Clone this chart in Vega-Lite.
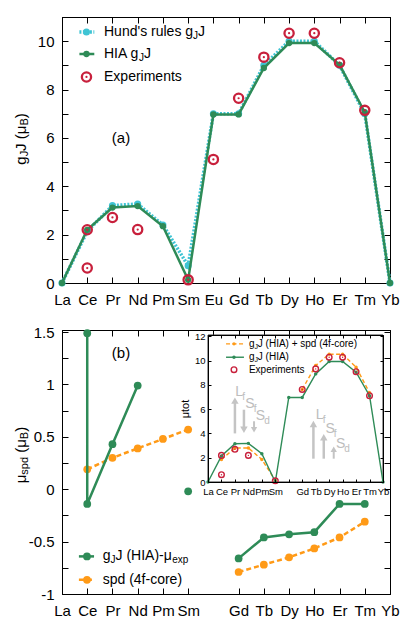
{
 "$schema": "https://vega.github.io/schema/vega-lite/v6.json",
 "autosize": {"type": "pad"},
 "padding": {"left": 13, "top": 9, "right": 5, "bottom": 5},
 "background": "white",
 "config": {
  "font": "Liberation Sans",
  "view": {"stroke": "black", "strokeWidth": 1},
  "axis": {"domain": true, "domainColor": "black", "domainWidth": 1, "grid": false, "labelFont": "Liberation Sans", "titleFont": "Liberation Sans", "labelColor": "black", "titleColor": "black", "tickColor": "black", "labelFontSize": 15, "titleFontSize": 15, "titleFontWeight": "normal", "labelFlush": false, "labelOverlap": false}
 },
 "datasets": {
  "hundA": [{"el":"La","Z":57,"g":0},{"el":"Ce","Z":58,"g":2.14},{"el":"Pr","Z":59,"g":3.2},{"el":"Nd","Z":60,"g":3.27},{"el":"Pm","Z":61,"g":2.4},{"el":"Sm","Z":62,"g":0.71},{"el":"Eu","Z":63,"g":7},{"el":"Gd","Z":64,"g":7},{"el":"Tb","Z":65,"g":9},{"el":"Dy","Z":66,"g":10},{"el":"Ho","Z":67,"g":10},{"el":"Er","Z":68,"g":9},{"el":"Tm","Z":69,"g":7},{"el":"Yb","Z":70,"g":0}],
  "hiaA": [{"el":"La","Z":57,"g":0},{"el":"Ce","Z":58,"g":2.2},{"el":"Pr","Z":59,"g":3.12},{"el":"Nd","Z":60,"g":3.18},{"el":"Pm","Z":61,"g":2.35},{"el":"Sm","Z":62,"g":0.13},{"el":"Eu","Z":63,"g":6.97},{"el":"Gd","Z":64,"g":6.97},{"el":"Tb","Z":65,"g":8.89},{"el":"Dy","Z":66,"g":9.92},{"el":"Ho","Z":67,"g":9.92},{"el":"Er","Z":68,"g":9.02},{"el":"Tm","Z":69,"g":7.06},{"el":"Yb","Z":70,"g":0}],
  "expA": [{"el":"Ce","Z":58,"g":2.2},{"el":"Ce","Z":58,"g":0.62},{"el":"Pr","Z":59,"g":2.71},{"el":"Nd","Z":60,"g":2.21},{"el":"Sm","Z":62,"g":0.13},{"el":"Eu","Z":63,"g":5.11},{"el":"Gd","Z":64,"g":7.64},{"el":"Tb","Z":65,"g":9.34},{"el":"Dy","Z":66,"g":10.33},{"el":"Ho","Z":67,"g":10.33},{"el":"Er","Z":68,"g":9.11},{"el":"Tm","Z":69,"g":7.14}],
  "diffB": [{"el":"Ce","Z":58,"mu":1.49,"seg":"a","ord":1},{"el":"Ce","Z":58,"mu":-0.14,"seg":"a","ord":2},{"el":"Pr","Z":59,"mu":0.43,"seg":"a","ord":3},{"el":"Nd","Z":60,"mu":0.99,"seg":"a","ord":4},{"el":"Sm","Z":62,"mu":-0.02,"seg":"b","ord":5},{"el":"Gd","Z":64,"mu":-0.66,"seg":"c","ord":6},{"el":"Tb","Z":65,"mu":-0.46,"seg":"c","ord":7},{"el":"Dy","Z":66,"mu":-0.43,"seg":"c","ord":8},{"el":"Ho","Z":67,"mu":-0.41,"seg":"c","ord":9},{"el":"Er","Z":68,"mu":-0.14,"seg":"c","ord":10},{"el":"Tm","Z":69,"mu":-0.14,"seg":"c","ord":11}],
  "spdB": [{"el":"Ce","Z":58,"mu":0.19,"seg":"a"},{"el":"Pr","Z":59,"mu":0.3,"seg":"a"},{"el":"Nd","Z":60,"mu":0.39,"seg":"a"},{"el":"Pm","Z":61,"mu":0.48,"seg":"a"},{"el":"Sm","Z":62,"mu":0.57,"seg":"a"},{"el":"Gd","Z":64,"mu":-0.79,"seg":"b"},{"el":"Tb","Z":65,"mu":-0.72,"seg":"b"},{"el":"Dy","Z":66,"mu":-0.65,"seg":"b"},{"el":"Ho","Z":67,"mu":-0.565,"seg":"b"},{"el":"Er","Z":68,"mu":-0.46,"seg":"b"},{"el":"Tm","Z":69,"mu":-0.31,"seg":"b"}],
  "hiaI": [{"el":"La","Z":57,"mu":0},{"el":"Ce","Z":58,"mu":2.14},{"el":"Pr","Z":59,"mu":3.15},{"el":"Nd","Z":60,"mu":3.18},{"el":"Pm","Z":61,"mu":2.33},{"el":"Sm","Z":62,"mu":0},{"el":"Eu","Z":63,"mu":6.96},{"el":"Gd","Z":64,"mu":6.96},{"el":"Tb","Z":65,"mu":8.9},{"el":"Dy","Z":66,"mu":9.92},{"el":"Ho","Z":67,"mu":9.92},{"el":"Er","Z":68,"mu":9.04},{"el":"Tm","Z":69,"mu":7.1},{"el":"Yb","Z":70,"mu":0}],
  "sumI": [{"el":"Ce","Z":58,"mu":1.86,"seg":"a"},{"el":"Pr","Z":59,"mu":2.8,"seg":"a"},{"el":"Nd","Z":60,"mu":2.8,"seg":"a"},{"el":"Pm","Z":61,"mu":1.86,"seg":"a"},{"el":"Sm","Z":62,"mu":0.12,"seg":"a"},{"el":"Gd","Z":64,"mu":7.62,"seg":"b"},{"el":"Tb","Z":65,"mu":9.59,"seg":"b"},{"el":"Dy","Z":66,"mu":10.52,"seg":"b"},{"el":"Ho","Z":67,"mu":10.52,"seg":"b"},{"el":"Er","Z":68,"mu":9.45,"seg":"b"},{"el":"Tm","Z":69,"mu":7.35,"seg":"b"}],
  "expI": [{"el":"Ce","Z":58,"mu":2.19},{"el":"Ce","Z":58,"mu":0.6},{"el":"Pr","Z":59,"mu":2.69},{"el":"Nd","Z":60,"mu":2.19},{"el":"Sm","Z":62,"mu":0.1},{"el":"Gd","Z":64,"mu":7.62},{"el":"Tb","Z":65,"mu":9.31},{"el":"Dy","Z":66,"mu":10.27},{"el":"Ho","Z":67,"mu":10.27},{"el":"Er","Z":68,"mu":9.08},{"el":"Tm","Z":69,"mu":7.1}]
 },
 "spacing": 47,
 "bounds": "flush",
 "vconcat": [
  {
   "width": 328, "height": 266,
   "layer": [
    {"data": {"name": "hundA"}, "mark": {"type": "point", "opacity": 0},
     "encoding": {
      "x": {"field": "Z", "type": "quantitative", "scale": {"domain": [57, 70]}, "axis": {"orient": "bottom", "values": [57,58,59,60,61,62,63,64,65,66,67,68,69,70], "labelExpr": "['La','Ce','Pr','Nd','Pm','Sm','Eu','Gd','Tb','Dy','Ho','Er','Tm','Yb'][datum.value-57]", "tickSize": -6, "labelPadding": 15, "title": null}},
      "y": {"field": "g", "type": "quantitative", "scale": {"domain": [0, 11]}, "axis": {"orient": "left", "values": [0,1,2,3,4,5,6,7,8,9,10,11], "labelExpr": "datum.value % 2 == 0 && datum.value <= 10 ? format(datum.value,'d') : ''", "tickSize": -6, "labelPadding": 14, "title": null}}
     }},
    {"data": {"name": "hundA"}, "mark": {"type": "point", "opacity": 0},
     "encoding": {
      "x": {"field": "Z", "type": "quantitative", "scale": {"domain": [57, 70]}, "axis": {"orient": "top", "values": [57,58,59,60,61,62,63,64,65,66,67,68,69,70], "labels": false, "tickSize": -6, "title": null}},
      "y": {"field": "g", "type": "quantitative", "scale": {"domain": [0, 11]}, "axis": {"orient": "right", "values": [0,1,2,3,4,5,6,7,8,9,10,11], "labels": false, "tickSize": -6, "title": null}}
     }},
    {"data": {"values": [{}]}, "mark": {"type": "text", "text": "g", "angle": 270, "align": "left", "baseline": "middle", "fontSize": 15, "font": "Liberation Sans", "color": "black"},
     "encoding": {"x": {"datum": 55.375, "type": "quantitative", "scale": {"domain": [57, 70]}, "axis": null}, "y": {"datum": 4.89, "type": "quantitative", "scale": {"domain": [0, 11]}, "axis": null}}},
    {"data": {"values": [{}]}, "mark": {"type": "text", "text": "J", "angle": 270, "align": "left", "baseline": "middle", "fontSize": 11, "dy": 4, "font": "Liberation Sans", "color": "black"},
     "encoding": {"x": {"datum": 55.375, "type": "quantitative", "scale": {"domain": [57, 70]}, "axis": null}, "y": {"datum": 5.24, "type": "quantitative", "scale": {"domain": [0, 11]}, "axis": null}}},
    {"data": {"values": [{}]}, "mark": {"type": "text", "text": "J (μ", "angle": 270, "align": "left", "baseline": "middle", "fontSize": 15, "font": "Liberation Sans", "color": "black"},
     "encoding": {"x": {"datum": 55.375, "type": "quantitative", "scale": {"domain": [57, 70]}, "axis": null}, "y": {"datum": 5.46, "type": "quantitative", "scale": {"domain": [0, 11]}, "axis": null}}},
    {"data": {"values": [{}]}, "mark": {"type": "text", "text": "B", "angle": 270, "align": "left", "baseline": "middle", "fontSize": 11, "dy": 4, "font": "Liberation Sans", "color": "black"},
     "encoding": {"x": {"datum": 55.375, "type": "quantitative", "scale": {"domain": [57, 70]}, "axis": null}, "y": {"datum": 6.51, "type": "quantitative", "scale": {"domain": [0, 11]}, "axis": null}}},
    {"data": {"values": [{}]}, "mark": {"type": "text", "text": ")", "angle": 270, "align": "left", "baseline": "middle", "fontSize": 15, "font": "Liberation Sans", "color": "black"},
     "encoding": {"x": {"datum": 55.375, "type": "quantitative", "scale": {"domain": [57, 70]}, "axis": null}, "y": {"datum": 6.81, "type": "quantitative", "scale": {"domain": [0, 11]}, "axis": null}}},
    {"data": {"name": "hundA"}, "mark": {"type": "line", "color": "#3fc4d4", "strokeWidth": 3.5, "strokeDash": [2, 1.5]},
     "encoding": {"x": {"field": "Z", "type": "quantitative", "scale": {"domain": [57, 70]}, "axis": null}, "y": {"field": "g", "type": "quantitative", "scale": {"domain": [0, 11]}, "axis": null}}},
    {"data": {"name": "hundA"}, "mark": {"type": "point", "filled": true, "color": "#3fc4d4", "size": 50, "opacity": 1},
     "encoding": {"x": {"field": "Z", "type": "quantitative", "scale": {"domain": [57, 70]}, "axis": null}, "y": {"field": "g", "type": "quantitative", "scale": {"domain": [0, 11]}, "axis": null}}},
    {"data": {"name": "hiaA"}, "mark": {"type": "line", "color": "#2e8b57", "strokeWidth": 2.5},
     "encoding": {"x": {"field": "Z", "type": "quantitative", "scale": {"domain": [57, 70]}, "axis": null}, "y": {"field": "g", "type": "quantitative", "scale": {"domain": [0, 11]}, "axis": null}}},
    {"data": {"name": "hiaA"}, "mark": {"type": "point", "filled": true, "color": "#2e8b57", "size": 40, "opacity": 1},
     "encoding": {"x": {"field": "Z", "type": "quantitative", "scale": {"domain": [57, 70]}, "axis": null}, "y": {"field": "g", "type": "quantitative", "scale": {"domain": [0, 11]}, "axis": null}}},
    {"data": {"name": "expA"}, "mark": {"type": "point", "filled": false, "color": "#c8203c", "strokeWidth": 2.3, "size": 85, "opacity": 1},
     "encoding": {"x": {"field": "Z", "type": "quantitative", "scale": {"domain": [57, 70]}, "axis": null}, "y": {"field": "g", "type": "quantitative", "scale": {"domain": [0, 11]}, "axis": null}}},
    {"data": {"name": "expA"}, "mark": {"type": "point", "filled": true, "color": "#c8203c", "size": 5, "opacity": 1},
     "encoding": {"x": {"field": "Z", "type": "quantitative", "scale": {"domain": [57, 70]}, "axis": null}, "y": {"field": "g", "type": "quantitative", "scale": {"domain": [0, 11]}, "axis": null}}},
    {"data": {"values": [{}]}, "mark": {"type": "rule", "color": "#3fc4d4", "strokeWidth": 3.5, "strokeDash": [2, 1.5]},
     "encoding": {"x": {"datum": 57.69, "type": "quantitative", "scale": {"domain": [57, 70]}, "axis": null}, "x2": {"datum": 58.28}, "y": {"datum": 10.38, "type": "quantitative", "scale": {"domain": [0, 11]}, "axis": null}}},
    {"data": {"values": [{}]}, "mark": {"type": "point", "filled": true, "color": "#3fc4d4", "size": 50, "opacity": 1},
     "encoding": {"x": {"datum": 57.97, "type": "quantitative", "scale": {"domain": [57, 70]}, "axis": null}, "y": {"datum": 10.38, "type": "quantitative", "scale": {"domain": [0, 11]}, "axis": null}}},
    {"data": {"values": [{}]}, "mark": {"type": "rule", "color": "#2e8b57", "strokeWidth": 2.5},
     "encoding": {"x": {"datum": 57.69, "type": "quantitative", "scale": {"domain": [57, 70]}, "axis": null}, "x2": {"datum": 58.28}, "y": {"datum": 9.47, "type": "quantitative", "scale": {"domain": [0, 11]}, "axis": null}}},
    {"data": {"values": [{}]}, "mark": {"type": "point", "filled": true, "color": "#2e8b57", "size": 40, "opacity": 1},
     "encoding": {"x": {"datum": 57.97, "type": "quantitative", "scale": {"domain": [57, 70]}, "axis": null}, "y": {"datum": 9.47, "type": "quantitative", "scale": {"domain": [0, 11]}, "axis": null}}},
    {"data": {"values": [{}]}, "mark": {"type": "point", "filled": false, "color": "#c8203c", "strokeWidth": 2.3, "size": 85, "opacity": 1},
     "encoding": {"x": {"datum": 57.97, "type": "quantitative", "scale": {"domain": [57, 70]}, "axis": null}, "y": {"datum": 8.52, "type": "quantitative", "scale": {"domain": [0, 11]}, "axis": null}}},
    {"data": {"values": [{}]}, "mark": {"type": "point", "filled": true, "color": "#c8203c", "size": 5, "opacity": 1},
     "encoding": {"x": {"datum": 57.97, "type": "quantitative", "scale": {"domain": [57, 70]}, "axis": null}, "y": {"datum": 8.52, "type": "quantitative", "scale": {"domain": [0, 11]}, "axis": null}}},
    {"data": {"values": [{}]}, "mark": {"type": "text", "text": "Hund's rules g", "align": "left", "baseline": "middle", "fontSize": 14, "font": "Liberation Sans", "color": "black"},
     "encoding": {"x": {"datum": 58.665, "type": "quantitative", "scale": {"domain": [57, 70]}, "axis": null}, "y": {"datum": 10.38, "type": "quantitative", "scale": {"domain": [0, 11]}, "axis": null}}},
    {"data": {"values": [{}]}, "mark": {"type": "text", "text": "J", "align": "left", "baseline": "middle", "fontSize": 10, "dy": 4, "font": "Liberation Sans", "color": "black"},
     "encoding": {"x": {"datum": 62.19, "type": "quantitative", "scale": {"domain": [57, 70]}, "axis": null}, "y": {"datum": 10.38, "type": "quantitative", "scale": {"domain": [0, 11]}, "axis": null}}},
    {"data": {"values": [{}]}, "mark": {"type": "text", "text": "J", "align": "left", "baseline": "middle", "fontSize": 14, "font": "Liberation Sans", "color": "black"},
     "encoding": {"x": {"datum": 62.39, "type": "quantitative", "scale": {"domain": [57, 70]}, "axis": null}, "y": {"datum": 10.38, "type": "quantitative", "scale": {"domain": [0, 11]}, "axis": null}}},
    {"data": {"values": [{}]}, "mark": {"type": "text", "text": "HIA g", "align": "left", "baseline": "middle", "fontSize": 14, "font": "Liberation Sans", "color": "black"},
     "encoding": {"x": {"datum": 58.665, "type": "quantitative", "scale": {"domain": [57, 70]}, "axis": null}, "y": {"datum": 9.47, "type": "quantitative", "scale": {"domain": [0, 11]}, "axis": null}}},
    {"data": {"values": [{}]}, "mark": {"type": "text", "text": "J", "align": "left", "baseline": "middle", "fontSize": 10, "dy": 4, "font": "Liberation Sans", "color": "black"},
     "encoding": {"x": {"datum": 60.05, "type": "quantitative", "scale": {"domain": [57, 70]}, "axis": null}, "y": {"datum": 9.47, "type": "quantitative", "scale": {"domain": [0, 11]}, "axis": null}}},
    {"data": {"values": [{}]}, "mark": {"type": "text", "text": "J", "align": "left", "baseline": "middle", "fontSize": 14, "font": "Liberation Sans", "color": "black"},
     "encoding": {"x": {"datum": 60.25, "type": "quantitative", "scale": {"domain": [57, 70]}, "axis": null}, "y": {"datum": 9.47, "type": "quantitative", "scale": {"domain": [0, 11]}, "axis": null}}},
    {"data": {"values": [{}]}, "mark": {"type": "text", "text": "Experiments", "align": "left", "baseline": "middle", "fontSize": 14, "font": "Liberation Sans", "color": "black"},
     "encoding": {"x": {"datum": 58.665, "type": "quantitative", "scale": {"domain": [57, 70]}, "axis": null}, "y": {"datum": 8.52, "type": "quantitative", "scale": {"domain": [0, 11]}, "axis": null}}},
    {"data": {"values": [{}]}, "mark": {"type": "text", "text": "(a)", "align": "center", "baseline": "middle", "fontSize": 15, "font": "Liberation Sans", "color": "black"},
     "encoding": {"x": {"datum": 59.34, "type": "quantitative", "scale": {"domain": [57, 70]}, "axis": null}, "y": {"datum": 6.0, "type": "quantitative", "scale": {"domain": [0, 11]}, "axis": null}}}
   ],
   "resolve": {"axis": {"x": "independent", "y": "independent"}}
  },
  {
   "width": 328, "height": 264,
   "layer": [
    {
     "layer": [
      {"data": {"name": "diffB"}, "mark": {"type": "point", "opacity": 0},
       "encoding": {
        "x": {"field": "Z", "type": "quantitative", "scale": {"domain": [57, 70]}, "axis": {"orient": "bottom", "values": [57,58,59,60,61,62,64,65,66,67,68,69,70], "labelExpr": "['La','Ce','Pr','Nd','Pm','Sm','Eu','Gd','Tb','Dy','Ho','Er','Tm','Yb'][datum.value-57]", "tickSize": -6, "labelPadding": 15, "title": null}},
        "y": {"field": "mu", "type": "quantitative", "scale": {"domain": [-1, 1.52]}, "axis": {"orient": "left", "values": [-1,-0.75,-0.5,-0.25,0,0.25,0.5,0.75,1,1.25,1.5], "labelExpr": "datum.value % 0.5 == 0 ? replace(format(datum.value,'~g'),'−','-') : ''", "tickSize": -6, "labelPadding": 14, "title": null}}
       }},
      {"data": {"name": "diffB"}, "mark": {"type": "point", "opacity": 0},
       "encoding": {
        "x": {"field": "Z", "type": "quantitative", "scale": {"domain": [57, 70]}, "axis": {"orient": "top", "values": [57,58,59,60,61,62,63,64,65,66,67,68,69,70], "labels": false, "tickSize": -6, "title": null}},
        "y": {"field": "mu", "type": "quantitative", "scale": {"domain": [-1, 1.52]}, "axis": {"orient": "right", "values": [-1,-0.75,-0.5,-0.25,0,0.25,0.5,0.75,1,1.25,1.5], "labels": false, "tickSize": -6, "title": null}}
       }},
      {"data": {"values": [{}]}, "mark": {"type": "text", "text": "μ", "angle": 270, "align": "left", "baseline": "middle", "fontSize": 15, "font": "Liberation Sans", "color": "black"},
       "encoding": {"x": {"datum": 55.375, "type": "quantitative", "scale": {"domain": [57, 70]}, "axis": null}, "y": {"datum": 0.057, "type": "quantitative", "scale": {"domain": [-1, 1.52]}, "axis": null}}},
      {"data": {"values": [{}]}, "mark": {"type": "text", "text": "spd", "angle": 270, "align": "left", "baseline": "middle", "fontSize": 11, "dy": 4, "font": "Liberation Sans", "color": "black"},
       "encoding": {"x": {"datum": 55.375, "type": "quantitative", "scale": {"domain": [57, 70]}, "axis": null}, "y": {"datum": 0.139, "type": "quantitative", "scale": {"domain": [-1, 1.52]}, "axis": null}}},
      {"data": {"values": [{}]}, "mark": {"type": "text", "text": "(μ", "angle": 270, "align": "left", "baseline": "middle", "fontSize": 15, "font": "Liberation Sans", "color": "black"},
       "encoding": {"x": {"datum": 55.375, "type": "quantitative", "scale": {"domain": [57, 70]}, "axis": null}, "y": {"datum": 0.348, "type": "quantitative", "scale": {"domain": [-1, 1.52]}, "axis": null}}},
      {"data": {"values": [{}]}, "mark": {"type": "text", "text": "B", "angle": 270, "align": "left", "baseline": "middle", "fontSize": 11, "dy": 4, "font": "Liberation Sans", "color": "black"},
       "encoding": {"x": {"datum": 55.375, "type": "quantitative", "scale": {"domain": [57, 70]}, "axis": null}, "y": {"datum": 0.478, "type": "quantitative", "scale": {"domain": [-1, 1.52]}, "axis": null}}},
      {"data": {"values": [{}]}, "mark": {"type": "text", "text": ")", "angle": 270, "align": "left", "baseline": "middle", "fontSize": 15, "font": "Liberation Sans", "color": "black"},
       "encoding": {"x": {"datum": 55.375, "type": "quantitative", "scale": {"domain": [57, 70]}, "axis": null}, "y": {"datum": 0.548, "type": "quantitative", "scale": {"domain": [-1, 1.52]}, "axis": null}}},
      {"data": {"name": "spdB"}, "mark": {"type": "line", "color": "#ff9a17", "strokeWidth": 2.5, "strokeDash": [5, 3]},
       "encoding": {"x": {"field": "Z", "type": "quantitative", "scale": {"domain": [57, 70]}, "axis": null}, "y": {"field": "mu", "type": "quantitative", "scale": {"domain": [-1, 1.52]}, "axis": null}, "detail": {"field": "seg"}}},
      {"data": {"name": "spdB"}, "mark": {"type": "point", "filled": true, "color": "#ff9a17", "size": 60, "opacity": 1},
       "encoding": {"x": {"field": "Z", "type": "quantitative", "scale": {"domain": [57, 70]}, "axis": null}, "y": {"field": "mu", "type": "quantitative", "scale": {"domain": [-1, 1.52]}, "axis": null}}},
      {"data": {"name": "diffB"}, "mark": {"type": "line", "color": "#2e8b57", "strokeWidth": 2.5},
       "encoding": {"x": {"field": "Z", "type": "quantitative", "scale": {"domain": [57, 70]}, "axis": null}, "y": {"field": "mu", "type": "quantitative", "scale": {"domain": [-1, 1.52]}, "axis": null}, "detail": {"field": "seg"}, "order": {"field": "ord"}}},
      {"data": {"name": "diffB"}, "mark": {"type": "point", "filled": true, "color": "#2e8b57", "size": 60, "opacity": 1},
       "encoding": {"x": {"field": "Z", "type": "quantitative", "scale": {"domain": [57, 70]}, "axis": null}, "y": {"field": "mu", "type": "quantitative", "scale": {"domain": [-1, 1.52]}, "axis": null}}},
      {"data": {"values": [{}]}, "mark": {"type": "rule", "color": "#2e8b57", "strokeWidth": 2.5},
       "encoding": {"x": {"datum": 57.67, "type": "quantitative", "scale": {"domain": [57, 70]}, "axis": null}, "x2": {"datum": 58.27}, "y": {"datum": -0.641, "type": "quantitative", "scale": {"domain": [-1, 1.52]}, "axis": null}}},
      {"data": {"values": [{}]}, "mark": {"type": "point", "filled": true, "color": "#2e8b57", "size": 60, "opacity": 1},
       "encoding": {"x": {"datum": 57.99, "type": "quantitative", "scale": {"domain": [57, 70]}, "axis": null}, "y": {"datum": -0.641, "type": "quantitative", "scale": {"domain": [-1, 1.52]}, "axis": null}}},
      {"data": {"values": [{}]}, "mark": {"type": "rule", "color": "#ff9a17", "strokeWidth": 2.5, "strokeDash": [5, 3]},
       "encoding": {"x": {"datum": 57.67, "type": "quantitative", "scale": {"domain": [57, 70]}, "axis": null}, "x2": {"datum": 58.27}, "y": {"datum": -0.864, "type": "quantitative", "scale": {"domain": [-1, 1.52]}, "axis": null}}},
      {"data": {"values": [{}]}, "mark": {"type": "point", "filled": true, "color": "#ff9a17", "size": 60, "opacity": 1},
       "encoding": {"x": {"datum": 57.99, "type": "quantitative", "scale": {"domain": [57, 70]}, "axis": null}, "y": {"datum": -0.864, "type": "quantitative", "scale": {"domain": [-1, 1.52]}, "axis": null}}},
      {"data": {"values": [{}]}, "mark": {"type": "text", "text": "g", "align": "left", "baseline": "middle", "fontSize": 14, "font": "Liberation Sans", "color": "black"},
       "encoding": {"x": {"datum": 58.613, "type": "quantitative", "scale": {"domain": [57, 70]}, "axis": null}, "y": {"datum": -0.641, "type": "quantitative", "scale": {"domain": [-1, 1.52]}, "axis": null}}},
      {"data": {"values": [{}]}, "mark": {"type": "text", "text": "J", "align": "left", "baseline": "middle", "fontSize": 10, "dy": 4, "font": "Liberation Sans", "color": "black"},
       "encoding": {"x": {"datum": 58.92, "type": "quantitative", "scale": {"domain": [57, 70]}, "axis": null}, "y": {"datum": -0.641, "type": "quantitative", "scale": {"domain": [-1, 1.52]}, "axis": null}}},
      {"data": {"values": [{}]}, "mark": {"type": "text", "text": "J (HIA)-μ", "align": "left", "baseline": "middle", "fontSize": 14, "font": "Liberation Sans", "color": "black"},
       "encoding": {"x": {"datum": 59.12, "type": "quantitative", "scale": {"domain": [57, 70]}, "axis": null}, "y": {"datum": -0.641, "type": "quantitative", "scale": {"domain": [-1, 1.52]}, "axis": null}}},
      {"data": {"values": [{}]}, "mark": {"type": "text", "text": "exp", "align": "left", "baseline": "middle", "fontSize": 10, "dy": 4, "font": "Liberation Sans", "color": "black"},
       "encoding": {"x": {"datum": 61.37, "type": "quantitative", "scale": {"domain": [57, 70]}, "axis": null}, "y": {"datum": -0.641, "type": "quantitative", "scale": {"domain": [-1, 1.52]}, "axis": null}}},
      {"data": {"values": [{}]}, "mark": {"type": "text", "text": "spd (4f-core)", "align": "left", "baseline": "middle", "fontSize": 14, "font": "Liberation Sans", "color": "black"},
       "encoding": {"x": {"datum": 58.613, "type": "quantitative", "scale": {"domain": [57, 70]}, "axis": null}, "y": {"datum": -0.864, "type": "quantitative", "scale": {"domain": [-1, 1.52]}, "axis": null}}},
      {"data": {"values": [{}]}, "mark": {"type": "text", "text": "(b)", "align": "center", "baseline": "middle", "fontSize": 15, "font": "Liberation Sans", "color": "black"},
       "encoding": {"x": {"datum": 59.34, "type": "quantitative", "scale": {"domain": [57, 70]}, "axis": null}, "y": {"datum": 1.3, "type": "quantitative", "scale": {"domain": [-1, 1.52]}, "axis": null}}}
     ],
     "resolve": {"axis": {"x": "independent", "y": "independent"}}
    },
    {
     "layer": [
      {"data": {"values": [{}]}, "mark": {"type": "rect", "fill": "white", "stroke": "#333333", "strokeWidth": 1},
       "encoding": {"x": {"datum": 57, "type": "quantitative", "scale": {"domain": [57, 70], "range": [146, 321]}, "axis": null}, "x2": {"datum": 70}, "y": {"datum": 0, "type": "quantitative", "scale": {"domain": [0, 12.1], "range": [152, 5]}, "axis": null}, "y2": {"datum": 12.1}}},
      {"data": {"name": "hiaI"}, "mark": {"type": "point", "opacity": 0},
       "encoding": {
        "x": {"field": "Z", "type": "quantitative", "scale": {"domain": [57, 70], "range": [146, 321]}, "axis": {"orient": "bottom", "offset": -112, "zindex": 1, "values": [57,58,59,60,61,62,63,64,65,66,67,68,69,70], "labelExpr": "datum.value == 63 ? '' : ['La','Ce','Pr','Nd','Pm','Sm','Eu','Gd','Tb','Dy','Ho','Er','Tm','Yb'][datum.value-57]", "tickSize": -3, "labelPadding": 7, "labelFontSize": 9.5, "title": null}},
        "y": {"field": "mu", "type": "quantitative", "scale": {"domain": [0, 12.1], "range": [152, 5]}, "axis": {"orient": "left", "offset": -146, "zindex": 1, "values": [0,2,4,6,8,10,12], "tickSize": -3, "labelPadding": 6, "labelFontSize": 9.5, "title": "μtot", "titleFontSize": 11, "titlePadding": 4}}
       }},
      {"data": {"name": "hiaI"}, "mark": {"type": "point", "opacity": 0},
       "encoding": {
        "x": {"field": "Z", "type": "quantitative", "scale": {"domain": [57, 70], "range": [146, 321]}, "axis": {"orient": "top", "offset": -5, "zindex": 1, "values": [57,58,59,60,61,62,63,64,65,66,67,68,69,70], "labels": false, "tickSize": -3, "title": null}},
        "y": {"field": "mu", "type": "quantitative", "scale": {"domain": [0, 12.1], "range": [152, 5]}, "axis": {"orient": "right", "offset": -7, "zindex": 1, "values": [0,2,4,6,8,10,12], "labels": false, "tickSize": -3, "title": null}}
       }},
      {"data": {"name": "sumI"}, "mark": {"type": "line", "color": "#ff9a17", "strokeWidth": 1.4, "strokeDash": [4, 2.5]},
       "encoding": {"x": {"field": "Z", "type": "quantitative", "scale": {"domain": [57, 70], "range": [146, 321]}, "axis": null}, "y": {"field": "mu", "type": "quantitative", "scale": {"domain": [0, 12.1], "range": [152, 5]}, "axis": null}, "detail": {"field": "seg"}}},
      {"data": {"name": "sumI"}, "mark": {"type": "point", "filled": true, "color": "#ff9a17", "size": 12, "opacity": 1},
       "encoding": {"x": {"field": "Z", "type": "quantitative", "scale": {"domain": [57, 70], "range": [146, 321]}, "axis": null}, "y": {"field": "mu", "type": "quantitative", "scale": {"domain": [0, 12.1], "range": [152, 5]}, "axis": null}}},
      {"data": {"name": "hiaI"}, "mark": {"type": "line", "color": "#2e8b57", "strokeWidth": 1.4},
       "encoding": {"x": {"field": "Z", "type": "quantitative", "scale": {"domain": [57, 70], "range": [146, 321]}, "axis": null}, "y": {"field": "mu", "type": "quantitative", "scale": {"domain": [0, 12.1], "range": [152, 5]}, "axis": null}}},
      {"data": {"name": "hiaI"}, "mark": {"type": "point", "filled": true, "color": "#2e8b57", "size": 12, "opacity": 1},
       "encoding": {"x": {"field": "Z", "type": "quantitative", "scale": {"domain": [57, 70], "range": [146, 321]}, "axis": null}, "y": {"field": "mu", "type": "quantitative", "scale": {"domain": [0, 12.1], "range": [152, 5]}, "axis": null}}},
      {"data": {"name": "expI"}, "mark": {"type": "point", "filled": false, "color": "#c8203c", "strokeWidth": 1.4, "size": 32, "opacity": 1},
       "encoding": {"x": {"field": "Z", "type": "quantitative", "scale": {"domain": [57, 70], "range": [146, 321]}, "axis": null}, "y": {"field": "mu", "type": "quantitative", "scale": {"domain": [0, 12.1], "range": [152, 5]}, "axis": null}}},
      {"data": {"name": "expI"}, "mark": {"type": "point", "filled": true, "color": "#c8203c", "size": 2, "opacity": 1},
       "encoding": {"x": {"field": "Z", "type": "quantitative", "scale": {"domain": [57, 70], "range": [146, 321]}, "axis": null}, "y": {"field": "mu", "type": "quantitative", "scale": {"domain": [0, 12.1], "range": [152, 5]}, "axis": null}}},
      {"data": {"values": [{}]}, "mark": {"type": "rule", "color": "#ff9a17", "strokeWidth": 1.4, "strokeDash": [4, 2.5]},
       "encoding": {"x": {"datum": 58.34, "type": "quantitative", "scale": {"domain": [57, 70], "range": [146, 321]}, "axis": null}, "x2": {"datum": 59.67}, "y": {"datum": 11.37, "type": "quantitative", "scale": {"domain": [0, 12.1], "range": [152, 5]}, "axis": null}}},
      {"data": {"values": [{}]}, "mark": {"type": "point", "filled": true, "color": "#ff9a17", "size": 12, "opacity": 1},
       "encoding": {"x": {"datum": 58.93, "type": "quantitative", "scale": {"domain": [57, 70], "range": [146, 321]}, "axis": null}, "y": {"datum": 11.37, "type": "quantitative", "scale": {"domain": [0, 12.1], "range": [152, 5]}, "axis": null}}},
      {"data": {"values": [{}]}, "mark": {"type": "rule", "color": "#2e8b57", "strokeWidth": 1.4},
       "encoding": {"x": {"datum": 58.34, "type": "quantitative", "scale": {"domain": [57, 70], "range": [146, 321]}, "axis": null}, "x2": {"datum": 59.67}, "y": {"datum": 10.27, "type": "quantitative", "scale": {"domain": [0, 12.1], "range": [152, 5]}, "axis": null}}},
      {"data": {"values": [{}]}, "mark": {"type": "point", "filled": true, "color": "#2e8b57", "size": 12, "opacity": 1},
       "encoding": {"x": {"datum": 58.93, "type": "quantitative", "scale": {"domain": [57, 70], "range": [146, 321]}, "axis": null}, "y": {"datum": 10.27, "type": "quantitative", "scale": {"domain": [0, 12.1], "range": [152, 5]}, "axis": null}}},
      {"data": {"values": [{}]}, "mark": {"type": "point", "filled": false, "color": "#c8203c", "strokeWidth": 1.4, "size": 32, "opacity": 1},
       "encoding": {"x": {"datum": 58.93, "type": "quantitative", "scale": {"domain": [57, 70], "range": [146, 321]}, "axis": null}, "y": {"datum": 9.24, "type": "quantitative", "scale": {"domain": [0, 12.1], "range": [152, 5]}, "axis": null}}},
      {"data": {"values": [{}]}, "mark": {"type": "text", "text": "g", "align": "left", "baseline": "middle", "fontSize": 10, "font": "Liberation Sans", "color": "black"},
       "encoding": {"x": {"datum": 60.04, "type": "quantitative", "scale": {"domain": [57, 70], "range": [146, 321]}, "axis": null}, "y": {"datum": 11.37, "type": "quantitative", "scale": {"domain": [0, 12.1], "range": [152, 5]}, "axis": null}}},
      {"data": {"values": [{}]}, "mark": {"type": "text", "text": "J", "align": "left", "baseline": "middle", "fontSize": 7, "dy": 3, "font": "Liberation Sans", "color": "black"},
       "encoding": {"x": {"datum": 60.45, "type": "quantitative", "scale": {"domain": [57, 70], "range": [146, 321]}, "axis": null}, "y": {"datum": 11.37, "type": "quantitative", "scale": {"domain": [0, 12.1], "range": [152, 5]}, "axis": null}}},
      {"data": {"values": [{}]}, "mark": {"type": "text", "text": "J (HIA) + spd (4f-core)", "align": "left", "baseline": "middle", "fontSize": 10, "font": "Liberation Sans", "color": "black"},
       "encoding": {"x": {"datum": 60.7, "type": "quantitative", "scale": {"domain": [57, 70], "range": [146, 321]}, "axis": null}, "y": {"datum": 11.37, "type": "quantitative", "scale": {"domain": [0, 12.1], "range": [152, 5]}, "axis": null}}},
      {"data": {"values": [{}]}, "mark": {"type": "text", "text": "g", "align": "left", "baseline": "middle", "fontSize": 10, "font": "Liberation Sans", "color": "black"},
       "encoding": {"x": {"datum": 60.04, "type": "quantitative", "scale": {"domain": [57, 70], "range": [146, 321]}, "axis": null}, "y": {"datum": 10.27, "type": "quantitative", "scale": {"domain": [0, 12.1], "range": [152, 5]}, "axis": null}}},
      {"data": {"values": [{}]}, "mark": {"type": "text", "text": "J", "align": "left", "baseline": "middle", "fontSize": 7, "dy": 3, "font": "Liberation Sans", "color": "black"},
       "encoding": {"x": {"datum": 60.45, "type": "quantitative", "scale": {"domain": [57, 70], "range": [146, 321]}, "axis": null}, "y": {"datum": 10.27, "type": "quantitative", "scale": {"domain": [0, 12.1], "range": [152, 5]}, "axis": null}}},
      {"data": {"values": [{}]}, "mark": {"type": "text", "text": "J (HIA)", "align": "left", "baseline": "middle", "fontSize": 10, "font": "Liberation Sans", "color": "black"},
       "encoding": {"x": {"datum": 60.7, "type": "quantitative", "scale": {"domain": [57, 70], "range": [146, 321]}, "axis": null}, "y": {"datum": 10.27, "type": "quantitative", "scale": {"domain": [0, 12.1], "range": [152, 5]}, "axis": null}}},
      {"data": {"values": [{}]}, "mark": {"type": "text", "text": "Experiments", "align": "left", "baseline": "middle", "fontSize": 10, "font": "Liberation Sans", "color": "black"},
       "encoding": {"x": {"datum": 60.04, "type": "quantitative", "scale": {"domain": [57, 70], "range": [146, 321]}, "axis": null}, "y": {"datum": 9.24, "type": "quantitative", "scale": {"domain": [0, 12.1], "range": [152, 5]}, "axis": null}}},
      {"data": {"values": [{}]}, "mark": {"type": "rule", "color": "#c4c4c4", "strokeWidth": 2.5},
       "encoding": {"x": {"datum": 59.0, "type": "quantitative", "scale": {"domain": [57, 70], "range": [146, 321]}, "axis": null}, "y": {"datum": 4.0, "type": "quantitative", "scale": {"domain": [0, 12.1], "range": [152, 5]}, "axis": null}, "y2": {"datum": 6.7}}},
      {"data": {"values": [{}]}, "mark": {"type": "point", "shape": "triangle-up", "filled": true, "color": "#c4c4c4", "size": 55, "opacity": 1},
       "encoding": {"x": {"datum": 59.0, "type": "quantitative", "scale": {"domain": [57, 70], "range": [146, 321]}, "axis": null}, "y": {"datum": 6.7, "type": "quantitative", "scale": {"domain": [0, 12.1], "range": [152, 5]}, "axis": null}}},
      {"data": {"values": [{}]}, "mark": {"type": "rule", "color": "#c4c4c4", "strokeWidth": 2.5},
       "encoding": {"x": {"datum": 59.67, "type": "quantitative", "scale": {"domain": [57, 70], "range": [146, 321]}, "axis": null}, "y": {"datum": 5.95, "type": "quantitative", "scale": {"domain": [0, 12.1], "range": [152, 5]}, "axis": null}, "y2": {"datum": 4.3}}},
      {"data": {"values": [{}]}, "mark": {"type": "point", "shape": "triangle-down", "filled": true, "color": "#c4c4c4", "size": 55, "opacity": 1},
       "encoding": {"x": {"datum": 59.67, "type": "quantitative", "scale": {"domain": [57, 70], "range": [146, 321]}, "axis": null}, "y": {"datum": 4.3, "type": "quantitative", "scale": {"domain": [0, 12.1], "range": [152, 5]}, "axis": null}}},
      {"data": {"values": [{}]}, "mark": {"type": "rule", "color": "#c4c4c4", "strokeWidth": 2},
       "encoding": {"x": {"datum": 60.42, "type": "quantitative", "scale": {"domain": [57, 70], "range": [146, 321]}, "axis": null}, "y": {"datum": 5.0, "type": "quantitative", "scale": {"domain": [0, 12.1], "range": [152, 5]}, "axis": null}, "y2": {"datum": 4.3}}},
      {"data": {"values": [{}]}, "mark": {"type": "point", "shape": "triangle-down", "filled": true, "color": "#c4c4c4", "size": 40, "opacity": 1},
       "encoding": {"x": {"datum": 60.42, "type": "quantitative", "scale": {"domain": [57, 70], "range": [146, 321]}, "axis": null}, "y": {"datum": 4.3, "type": "quantitative", "scale": {"domain": [0, 12.1], "range": [152, 5]}, "axis": null}}},
      {"data": {"values": [{}]}, "mark": {"type": "rule", "color": "#c4c4c4", "strokeWidth": 2.5},
       "encoding": {"x": {"datum": 64.83, "type": "quantitative", "scale": {"domain": [57, 70], "range": [146, 321]}, "axis": null}, "y": {"datum": 1.92, "type": "quantitative", "scale": {"domain": [0, 12.1], "range": [152, 5]}, "axis": null}, "y2": {"datum": 4.77}}},
      {"data": {"values": [{}]}, "mark": {"type": "point", "shape": "triangle-up", "filled": true, "color": "#c4c4c4", "size": 55, "opacity": 1},
       "encoding": {"x": {"datum": 64.83, "type": "quantitative", "scale": {"domain": [57, 70], "range": [146, 321]}, "axis": null}, "y": {"datum": 4.77, "type": "quantitative", "scale": {"domain": [0, 12.1], "range": [152, 5]}, "axis": null}}},
      {"data": {"values": [{}]}, "mark": {"type": "rule", "color": "#c4c4c4", "strokeWidth": 2.5},
       "encoding": {"x": {"datum": 65.6, "type": "quantitative", "scale": {"domain": [57, 70], "range": [146, 321]}, "axis": null}, "y": {"datum": 1.92, "type": "quantitative", "scale": {"domain": [0, 12.1], "range": [152, 5]}, "axis": null}, "y2": {"datum": 3.68}}},
      {"data": {"values": [{}]}, "mark": {"type": "point", "shape": "triangle-up", "filled": true, "color": "#c4c4c4", "size": 55, "opacity": 1},
       "encoding": {"x": {"datum": 65.6, "type": "quantitative", "scale": {"domain": [57, 70], "range": [146, 321]}, "axis": null}, "y": {"datum": 3.68, "type": "quantitative", "scale": {"domain": [0, 12.1], "range": [152, 5]}, "axis": null}}},
      {"data": {"values": [{}]}, "mark": {"type": "rule", "color": "#c4c4c4", "strokeWidth": 2},
       "encoding": {"x": {"datum": 66.34, "type": "quantitative", "scale": {"domain": [57, 70], "range": [146, 321]}, "axis": null}, "y": {"datum": 1.92, "type": "quantitative", "scale": {"domain": [0, 12.1], "range": [152, 5]}, "axis": null}, "y2": {"datum": 2.7}}},
      {"data": {"values": [{}]}, "mark": {"type": "point", "shape": "triangle-up", "filled": true, "color": "#c4c4c4", "size": 40, "opacity": 1},
       "encoding": {"x": {"datum": 66.34, "type": "quantitative", "scale": {"domain": [57, 70], "range": [146, 321]}, "axis": null}, "y": {"datum": 2.7, "type": "quantitative", "scale": {"domain": [0, 12.1], "range": [152, 5]}, "axis": null}}},
      {"data": {"values": [{}]}, "mark": {"type": "text", "text": "L", "align": "left", "baseline": "middle", "fontSize": 14, "font": "Liberation Sans", "color": "#bdbdbd"},
       "encoding": {"x": {"datum": 59.03, "type": "quantitative", "scale": {"domain": [57, 70], "range": [146, 321]}, "axis": null}, "y": {"datum": 7.4, "type": "quantitative", "scale": {"domain": [0, 12.1], "range": [152, 5]}, "axis": null}}},
      {"data": {"values": [{}]}, "mark": {"type": "text", "text": "f", "align": "left", "baseline": "middle", "fontSize": 10, "dy": 5, "font": "Liberation Sans", "color": "#bdbdbd"},
       "encoding": {"x": {"datum": 59.55, "type": "quantitative", "scale": {"domain": [57, 70], "range": [146, 321]}, "axis": null}, "y": {"datum": 7.4, "type": "quantitative", "scale": {"domain": [0, 12.1], "range": [152, 5]}, "axis": null}}},
      {"data": {"values": [{}]}, "mark": {"type": "text", "text": "S", "align": "left", "baseline": "middle", "fontSize": 14, "font": "Liberation Sans", "color": "#bdbdbd"},
       "encoding": {"x": {"datum": 59.77, "type": "quantitative", "scale": {"domain": [57, 70], "range": [146, 321]}, "axis": null}, "y": {"datum": 6.4, "type": "quantitative", "scale": {"domain": [0, 12.1], "range": [152, 5]}, "axis": null}}},
      {"data": {"values": [{}]}, "mark": {"type": "text", "text": "f", "align": "left", "baseline": "middle", "fontSize": 10, "dy": 5, "font": "Liberation Sans", "color": "#bdbdbd"},
       "encoding": {"x": {"datum": 60.4, "type": "quantitative", "scale": {"domain": [57, 70], "range": [146, 321]}, "axis": null}, "y": {"datum": 6.4, "type": "quantitative", "scale": {"domain": [0, 12.1], "range": [152, 5]}, "axis": null}}},
      {"data": {"values": [{}]}, "mark": {"type": "text", "text": "S", "align": "left", "baseline": "middle", "fontSize": 14, "font": "Liberation Sans", "color": "#bdbdbd"},
       "encoding": {"x": {"datum": 60.55, "type": "quantitative", "scale": {"domain": [57, 70], "range": [146, 321]}, "axis": null}, "y": {"datum": 5.45, "type": "quantitative", "scale": {"domain": [0, 12.1], "range": [152, 5]}, "axis": null}}},
      {"data": {"values": [{}]}, "mark": {"type": "text", "text": "d", "align": "left", "baseline": "middle", "fontSize": 10, "dy": 5, "font": "Liberation Sans", "color": "#bdbdbd"},
       "encoding": {"x": {"datum": 61.18, "type": "quantitative", "scale": {"domain": [57, 70], "range": [146, 321]}, "axis": null}, "y": {"datum": 5.45, "type": "quantitative", "scale": {"domain": [0, 12.1], "range": [152, 5]}, "axis": null}}},
      {"data": {"values": [{}]}, "mark": {"type": "text", "text": "L", "align": "left", "baseline": "middle", "fontSize": 14, "font": "Liberation Sans", "color": "#bdbdbd"},
       "encoding": {"x": {"datum": 65.0, "type": "quantitative", "scale": {"domain": [57, 70], "range": [146, 321]}, "axis": null}, "y": {"datum": 5.48, "type": "quantitative", "scale": {"domain": [0, 12.1], "range": [152, 5]}, "axis": null}}},
      {"data": {"values": [{}]}, "mark": {"type": "text", "text": "f", "align": "left", "baseline": "middle", "fontSize": 10, "dy": 5, "font": "Liberation Sans", "color": "#bdbdbd"},
       "encoding": {"x": {"datum": 65.52, "type": "quantitative", "scale": {"domain": [57, 70], "range": [146, 321]}, "axis": null}, "y": {"datum": 5.48, "type": "quantitative", "scale": {"domain": [0, 12.1], "range": [152, 5]}, "axis": null}}},
      {"data": {"values": [{}]}, "mark": {"type": "text", "text": "S", "align": "left", "baseline": "middle", "fontSize": 14, "font": "Liberation Sans", "color": "#bdbdbd"},
       "encoding": {"x": {"datum": 65.72, "type": "quantitative", "scale": {"domain": [57, 70], "range": [146, 321]}, "axis": null}, "y": {"datum": 4.38, "type": "quantitative", "scale": {"domain": [0, 12.1], "range": [152, 5]}, "axis": null}}},
      {"data": {"values": [{}]}, "mark": {"type": "text", "text": "f", "align": "left", "baseline": "middle", "fontSize": 10, "dy": 5, "font": "Liberation Sans", "color": "#bdbdbd"},
       "encoding": {"x": {"datum": 66.35, "type": "quantitative", "scale": {"domain": [57, 70], "range": [146, 321]}, "axis": null}, "y": {"datum": 4.38, "type": "quantitative", "scale": {"domain": [0, 12.1], "range": [152, 5]}, "axis": null}}},
      {"data": {"values": [{}]}, "mark": {"type": "text", "text": "S", "align": "left", "baseline": "middle", "fontSize": 14, "font": "Liberation Sans", "color": "#bdbdbd"},
       "encoding": {"x": {"datum": 66.5, "type": "quantitative", "scale": {"domain": [57, 70], "range": [146, 321]}, "axis": null}, "y": {"datum": 3.15, "type": "quantitative", "scale": {"domain": [0, 12.1], "range": [152, 5]}, "axis": null}}},
      {"data": {"values": [{}]}, "mark": {"type": "text", "text": "d", "align": "left", "baseline": "middle", "fontSize": 10, "dy": 5, "font": "Liberation Sans", "color": "#bdbdbd"},
       "encoding": {"x": {"datum": 67.13, "type": "quantitative", "scale": {"domain": [57, 70], "range": [146, 321]}, "axis": null}, "y": {"datum": 3.15, "type": "quantitative", "scale": {"domain": [0, 12.1], "range": [152, 5]}, "axis": null}}}
     ],
     "resolve": {"axis": {"x": "independent", "y": "independent"}}
    }
   ],
   "resolve": {"scale": {"x": "independent", "y": "independent"}, "axis": {"x": "independent", "y": "independent"}}
  }
 ]
}
